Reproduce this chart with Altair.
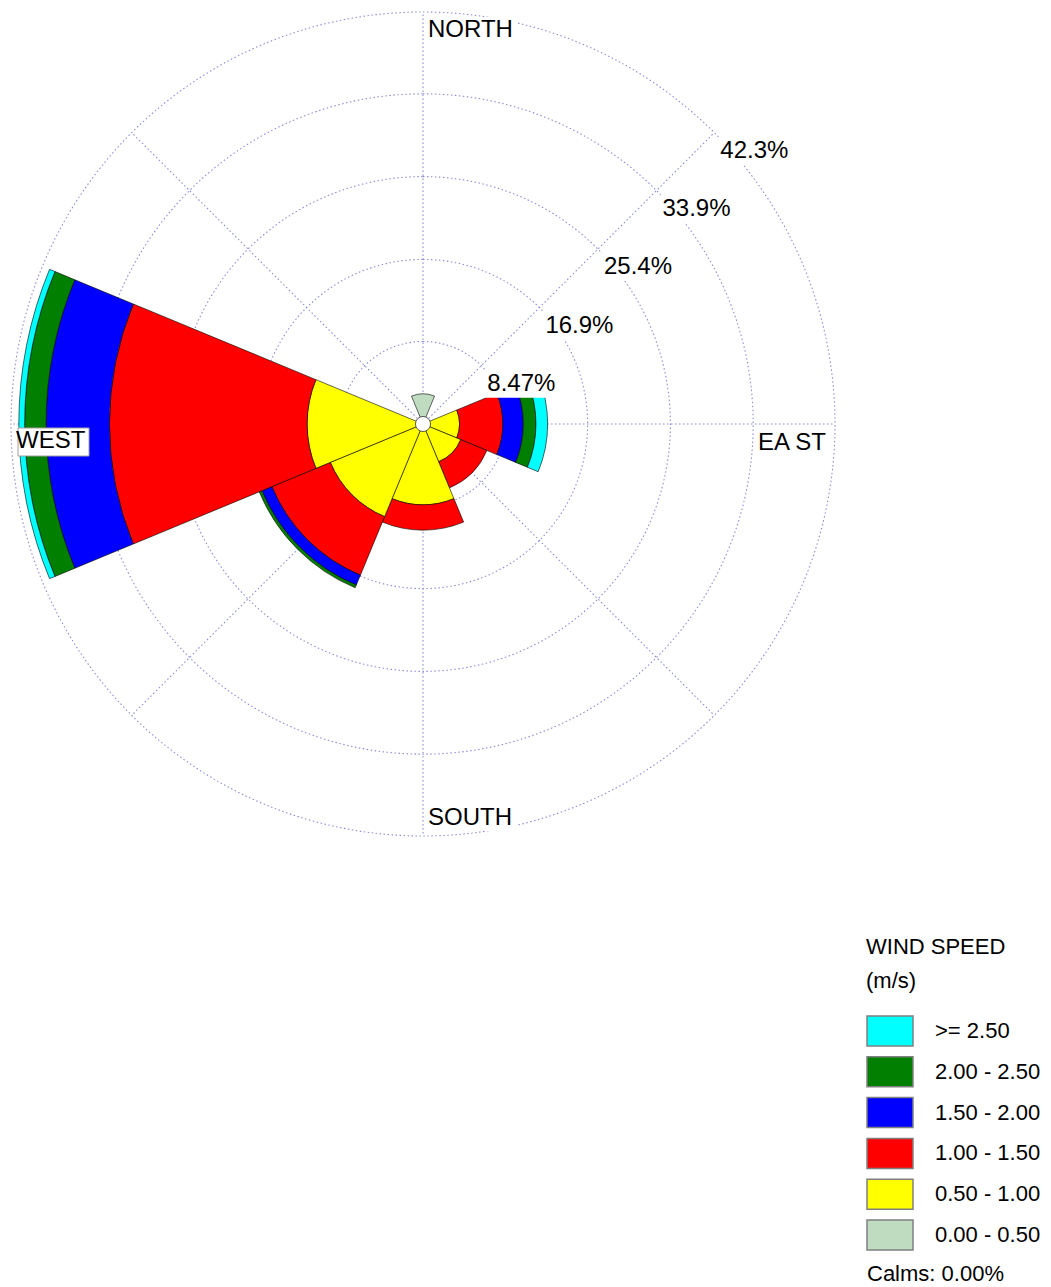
import altair as alt
import pandas as pd
import numpy as np

FONT = "Liberation Sans"
GRID = "#8C8CD6"

# ---------------- data ----------------
directions = ["N", "NE", "E", "SE", "S", "SW", "W", "NW"]
dir_degrees = [0, 45, 90, 135, 180, 225, 270, 315]
sector_width = 45.0

speed_classes = ["0.00 - 0.50", "0.50 - 1.00", "1.00 - 1.50",
                 "1.50 - 2.00", "2.00 - 2.50", ">= 2.50"]
class_colors = ["#C0DCC0", "#FFFF00", "#FF0000", "#0000FF", "#007F00", "#00FFFF"]

# frequency (%) per direction (N, NE, E, SE, S, SW, W, NW) for each speed class
freq_000_050 = [3.1, 0, 0, 0, 0, 0, 0, 0]
freq_050_100 = [0, 0, 3.75, 4.2, 8.3, 10.3, 11.9, 0]
freq_100_150 = [0, 0, 4.45, 2.9, 2.6, 6.5, 20.3, 0]
freq_150_200 = [0, 0, 2.1, 0, 0, 1.1, 6.5, 0]
freq_200_250 = [0, 0, 1.3, 0, 0, 0.3, 2.2, 0]
freq_ge_250 = [0, 0, 1.2, 0, 0, 0, 0.6, 0]

ring_values = [8.47, 16.9, 25.4, 33.9, 42.3]
ring_labels = ["8.47%", "16.9%", "25.4%", "33.9%", "42.3%"]
calms_pct = 0.00

compass_labels = ["NORTH", "EA ST", "SOUTH", "WEST"]
compass_degrees = [0, 90, 180, 270]

# ---------------- tables ----------------
freqs = [freq_000_050, freq_050_100, freq_100_150, freq_150_200, freq_200_250, freq_ge_250]
rows = []
for i, (d, deg) in enumerate(zip(directions, dir_degrees)):
    cum = 0.0
    for k, cls in enumerate(speed_classes):
        v = freqs[k][i]
        if v > 0:
            rows.append({"dir": d, "speed": cls, "start": deg - sector_width / 2,
                         "end": deg + sector_width / 2, "inner": cum, "outer": cum + v})
            cum += v
petal_df = pd.DataFrame(rows)

ring_df = pd.DataFrame({"r": ring_values, "label": ring_labels,
                        "t0": 0.0, "t1": 360.0, "ang": 45.0})
spoke_df = pd.DataFrame({"deg": dir_degrees})

R_MAX = ring_values[-1]
RPX = 412
CX, CY = 412, 416

theta_scale = alt.Scale(domain=[0, 360], range=[0, 2 * np.pi])
radius_scale = alt.Scale(type="linear", domain=[0, R_MAX], range=[0, RPX], zero=True)
x_scale = alt.Scale(domain=[-R_MAX, R_MAX], range=[CX - RPX, CX + RPX])
y_scale = alt.Scale(domain=[-R_MAX, R_MAX], range=[CY + RPX, CY - RPX])

cx = alt.value(CX)
cy = alt.value(CY)

rings = alt.Chart(ring_df).mark_arc(
    fillOpacity=0, stroke=GRID, strokeWidth=1.1, strokeDash=[1.5, 2.5]
).encode(
    x=cx, y=cy,
    theta=alt.Theta("t0:Q", scale=theta_scale, stack=None),
    theta2="t1:Q",
    radius=alt.Radius("r:Q", scale=radius_scale, stack=None),
)

polar_xy = dict(
    px=f"datum.r*sin(datum.ang*PI/180)",
    py=f"datum.r*cos(datum.ang*PI/180)",
)

spokes = alt.Chart(spoke_df).transform_calculate(
    r=f"{R_MAX}", ang="datum.deg", **polar_xy
).transform_calculate(z="0").mark_rule(
    stroke=GRID, strokeWidth=1.1, strokeDash=[1.5, 2.5]
).encode(
    x=alt.X("z:Q", scale=x_scale, axis=None),
    y=alt.Y("z:Q", scale=y_scale, axis=None),
    x2="px:Q", y2="py:Q",
)

legend = alt.Legend(
    title=["WIND SPEED", "(m/s)"], orient="none", legendX=855, legendY=929,
    titleFont=FONT, titleFontSize=22, titleFontWeight="normal", titleColor="black",
    titleLineHeight=34, titlePadding=22,
    symbolType="M-1,-1H2.0667V1H-1Z", symbolSize=900,
    symbolStrokeColor="#808080", symbolStrokeWidth=1.5, symbolOpacity=1,
    labelFont=FONT, labelFontSize=22, labelColor="black", labelOffset=37,
    rowPadding=4.8, padding=0, labelLimit=300,
)

petals = alt.Chart(petal_df).mark_arc(stroke="#000000", strokeWidth=0.6, opacity=1).encode(
    x=cx, y=cy,
    theta=alt.Theta("start:Q", scale=theta_scale, stack=None),
    theta2="end:Q",
    radius=alt.Radius("outer:Q", scale=radius_scale, stack=None),
    radius2="inner:Q",
    color=alt.Color("speed:N", scale=alt.Scale(domain=speed_classes[::-1], range=class_colors[::-1]),
                    legend=legend),
)

center = alt.Chart(pd.DataFrame({"c": [calms_pct]})).mark_point(
    filled=True, fill="white", stroke="#333333", strokeWidth=0.8, size=227, opacity=1, shape="circle"
).encode(x=cx, y=cy)


def label_box(df, offs, border=None):
    kw = dict(fill="white", xOffset=offs[0], x2Offset=offs[1], yOffset=offs[2], y2Offset=offs[3])
    if border:
        kw.update(stroke=border, strokeWidth=1)
    return alt.Chart(df).transform_calculate(**polar_xy).mark_rect(**kw).encode(
        x=alt.X("px:Q", scale=x_scale, axis=None),
        x2="px:Q",
        y=alt.Y("py:Q", scale=y_scale, axis=None),
        y2="py:Q",
    )


label_specs = {
    "NORTH": dict(align="left", dx=5, dy=18),
    "EA ST": dict(align="right", dx=-9, dy=19),
    "SOUTH": dict(align="left", dx=5, dy=-18),
    "WEST": dict(align="left", dx=5, dy=17),
}
box_specs = {
    "NORTH": ((3, 93, 5, 31), None),
    "SOUTH": ((3, 93, -31, -5), None),
    "WEST": ((7, 78, 4, 32), "#A0A0A0"),
}
compass_boxes = []
compass_layers = []
for lab, deg in zip(compass_labels, compass_degrees):
    ldf = pd.DataFrame({"label": [lab], "ang": [deg], "r": [R_MAX]})
    if lab in box_specs:
        offs, border = box_specs[lab]
        compass_boxes.append(label_box(ldf, offs, border))
    compass_layers.append(
        alt.Chart(ldf).mark_text(
            baseline="middle", font=FONT, fontSize=24, color="black", **label_specs[lab]
        ).encode(
            x=cx, y=cy,
            theta=alt.Theta("ang:Q", scale=theta_scale, stack=None),
            radius=alt.Radius("r:Q", scale=radius_scale, stack=None),
            text="label:N",
        )
    )

ring_boxes = label_box(ring_df, (4, 80, 4, 32))

ring_text = alt.Chart(ring_df).mark_text(
    align="left", baseline="middle", dx=6, dy=18, font=FONT, fontSize=24, color="black"
).encode(
    x=cx, y=cy,
    theta=alt.Theta("ang:Q", scale=theta_scale, stack=None),
    radius=alt.Radius("r:Q", scale=radius_scale, stack=None),
    text="label:N",
)

calms = alt.Chart(pd.DataFrame({"t": [f"Calms: {calms_pct:.2f}%"]})).mark_text(
    align="left", baseline="middle", font=FONT, fontSize=22, color="black"
).encode(x=alt.value(856), y=alt.value(1266), text="t:N")

chart = alt.layer(
    rings, spokes, petals, center, ring_boxes, *compass_boxes, *compass_layers, ring_text, calms
).properties(
    width=1030, height=1260, padding=0
).configure_view(stroke=None)

chart.save("out.html", embed_options={"renderer": "svg", "actions": False})
